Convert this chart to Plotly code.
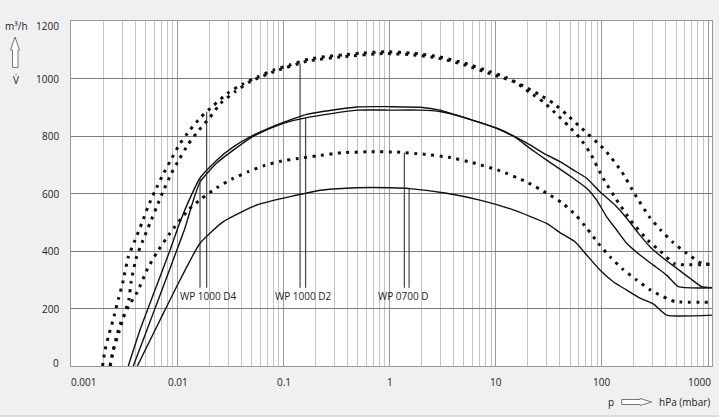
import numpy as np
import plotly.graph_objects as go

# ---------------- data (pressure p in hPa, volume flow V in m3/h) ----------------
p_d4_dot = [0.00196, 0.00207, 0.00227, 0.00252, 0.00276, 0.00304, 0.00343, 0.00397, 0.00459,
            0.00523, 0.00612, 0.00724, 0.00861, 0.01038, 0.01288, 0.01651, 0.02203, 0.0294,
            0.04108, 0.05689, 0.081, 0.1164, 0.1706, 0.2449, 0.3646, 0.5236, 0.901, 1.665,
            2.865, 5.114, 8.79, 12.64, 18.13, 25.1, 34.75, 47.1, 62.0, 106.7, 153.4, 204.6,
            279.1, 357.6, 469.9, 628.6, 870.2, 1088]
v_d4_dot = [0, 56, 114, 174, 232, 290, 380, 438, 496, 552, 609, 664, 716, 770, 818, 865, 908, 948,
            981, 1006, 1030, 1048, 1067, 1076, 1082, 1088, 1093, 1088, 1076, 1053, 1024, 1003, 974,
            946, 914, 873, 832, 751, 676, 597, 519, 473, 429, 392, 357, 354]

p_d2_dot = [0.00231, 0.00248, 0.00279, 0.00313, 0.00348, 0.00364, 0.0041, 0.00472, 0.0055,
            0.00635, 0.00733, 0.00867, 0.01038, 0.01261, 0.0159, 0.0202, 0.02547, 0.03475,
            0.04813, 0.081, 0.1706, 0.3646, 0.901, 1.665, 2.865, 5.114, 8.79, 15.14, 20.96,
            27.97, 36.06, 48.13, 61.1, 77.1, 100.7, 135.5, 187.6, 273, 357.6, 487.6, 1088]
v_d2_dot = [0, 56, 116, 177, 233, 292, 380, 438, 498, 554, 609, 668, 720, 772, 821, 865, 914, 954,
            989, 1024, 1061, 1076, 1087, 1082, 1071, 1047, 1017, 987, 951, 919, 881, 836, 795,
            742, 658, 581, 505, 436, 398, 355, 354]

p_0700_dot = [0.00231, 0.00248, 0.00268, 0.0029, 0.00343, 0.00417, 0.00523, 0.00635, 0.00848,
              0.01261, 0.01687, 0.02336, 0.03236, 0.04639, 0.06663, 0.09577, 0.1373, 0.2046,
              0.3522, 0.651, 1.161, 2.042, 3.614, 6.353, 10.93, 18.8, 31.19, 42.63, 56.89, 72.7,
              92.3, 119, 156.7, 212.4, 287.7, 407.4, 487.6, 1088]
v_0700_dot = [0, 56, 108, 149, 206, 258, 340, 394, 462, 543, 583, 620, 650, 676, 698, 713, 722, 731,
              742, 745, 744, 737, 726, 705, 679, 643, 598, 566, 524, 477, 427, 380, 337, 299, 264,
              235, 224, 222]

p_d4 = [0.00343, 0.00442, 0.00612, 0.00848, 0.01053, 0.01309, 0.01626, 0.02336, 0.0335, 0.04813,
        0.0691, 0.0991, 0.1647, 0.4876, 1.004, 1.926, 2.972, 5.7, 10.17, 14.59, 20.96, 30.11,
        40.18, 53.64, 71.75, 95.7, 132.6, 170.9, 219.8, 283.4, 378.3, 505.8, 675, 870, 1088]
v_d4 = [0, 125, 264, 403, 501, 584, 654, 716, 762, 797, 824, 847, 875, 901, 902, 900, 890, 858,
        827, 800, 769, 734, 711, 682, 653, 606, 560, 514, 462, 415, 375, 340, 305, 276, 272]

p_d2 = [0.00382, 0.00493, 0.00683, 0.00945, 0.01174, 0.01388, 0.01626, 0.02336, 0.0335, 0.04813,
        0.0691, 0.0991, 0.1647, 0.4876, 1.004, 1.926, 2.972, 5.7, 10.17, 14.59, 20.96, 30.11,
        40.18, 53.64, 71.75, 89.1, 110.7, 137.5, 170.9, 228.1, 304.4, 407.4, 523.6, 1088]
v_d2 = [0, 108, 247, 386, 480, 570, 640, 706, 751, 792, 821, 844, 864, 890, 890, 890, 885, 858,
        827, 800, 757, 716, 685, 653, 618, 577, 519, 473, 427, 386, 351, 316, 276, 272]

p_0700 = [0.00417, 0.00683, 0.01053, 0.01626, 0.02696, 0.05566, 0.1147, 0.2346, 0.4876, 1.004,
          1.549, 3.439, 7.08, 14.59, 30.11, 40.18, 55.66, 71.75, 95.7, 127.8, 170.9, 228.1, 304.4,
          407.4, 1088]
v_0700 = [0, 160, 299, 427, 502, 560, 589, 612, 620, 620, 617, 601, 577, 543, 496, 464, 432, 386,
          334, 293, 264, 236, 216, 177, 177]

labels = ["WP 1000 D4", "WP 1000 D2", "WP 0700 D"]
label_p = [0.01934, 0.152, 1.34]
label_v = 243
leader_bottom_v = 272
leader_solid_p = [0.01626, 0.161, 1.52]
leader_dot_p = [0.0188, 0.1426, 1.37]

x_ticks = [0.001, 0.01, 0.1, 1, 10, 100, 1000]
x_tick_text = ["0.001", "0.01", "0.1", "1", "10", "100", "1000"]
y_ticks = [0, 200, 400, 600, 800, 1000, 1200]

# ---------------- figure ----------------
FONT = "Open Sans, DejaVu Sans, sans-serif"
fig = go.Figure()

dot_sets = [(p_d4_dot, v_d4_dot), (p_d2_dot, v_d2_dot), (p_0700_dot, v_0700_dot)]
solid_sets = [(p_d4, v_d4), (p_d2, v_d2), (p_0700, v_0700)]

for pp, vv in dot_sets:
    fig.add_trace(go.Scatter(x=pp, y=vv, mode="lines",
                             line=dict(color="#111111", width=3, dash="3px,5.5px",
                                       shape="spline", smoothing=0.5),
                             hoverinfo="skip"))
for pp, vv in solid_sets:
    fig.add_trace(go.Scatter(x=pp, y=vv, mode="lines",
                             line=dict(color="#111111", width=1.4, shape="spline", smoothing=0.5),
                             hoverinfo="skip"))

# leader lines, ends
def curve_at(pp, vv, p):
    return float(np.interp(np.log10(p), np.log10(pp), vv))

for i in range(3):
    ps, vs = solid_sets[i]
    pd_, vd = dot_sets[i]
    for lp, (cp, cv) in ((leader_solid_p[i], (ps, vs)), (leader_dot_p[i], (pd_, vd))):
        top = curve_at(cp, cv, lp)
        fig.add_trace(go.Scatter(x=[lp, lp], y=[leader_bottom_v, top], mode="lines",
                                 line=dict(color="#222222", width=1), hoverinfo="skip"))

annotations = []
for t, lp in zip(labels, label_p):
    annotations.append(dict(x=np.log10(lp), y=label_v, xref="x", yref="y", text=t,
                            showarrow=False, font=dict(family=FONT, size=10, color="#222"),
                            xanchor="center", yanchor="middle"))

for i, (xv, xt) in enumerate(zip(x_ticks, x_tick_text)):
    shift = 0
    if i == 0:
        shift = 12.5
    elif i == len(x_ticks) - 1:
        shift = -8.5
    annotations.append(dict(x=np.log10(xv), y=0, xref="x", yref="paper", text=xt,
                            showarrow=False, font=dict(family=FONT, size=10, color="#222"),
                            xanchor="center", yanchor="middle", yshift=-16, xshift=shift))

for yv in y_ticks:
    ys = 0
    if yv == y_ticks[-1]:
        ys = -5
    elif yv == y_ticks[0]:
        ys = 3
    annotations.append(dict(x=0, y=yv, xref="paper", yref="y", text=str(yv),
                            showarrow=False, font=dict(family=FONT, size=10, color="#222"),
                            xanchor="right", yanchor="middle", xshift=-10, yshift=ys))

# axis captions (pixel layout helpers for decoration only)
L, R, T, B = 71, 712, 21, 366
def px(x):
    return (x - L) / (R - L)
def py(y):
    return (B - y) / (B - T)

annotations.append(dict(x=px(16), y=py(26), xref="paper", yref="paper", text="m³/h",
                        showarrow=False, font=dict(family=FONT, size=10, color="#222"),
                        xanchor="center", yanchor="middle"))
annotations.append(dict(x=px(16), y=py(80), xref="paper", yref="paper", text="V̇",
                        showarrow=False, font=dict(family=FONT, size=10, color="#222"),
                        xanchor="center", yanchor="middle"))
annotations.append(dict(x=px(610.5), y=py(402), xref="paper", yref="paper", text="p",
                        showarrow=False, font=dict(family=FONT, size=10, color="#222"),
                        xanchor="center", yanchor="middle"))
annotations.append(dict(x=px(657), y=py(402), xref="paper", yref="paper", text="hPa (mbar)",
                        showarrow=False, font=dict(family=FONT, size=10, color="#222"),
                        xanchor="left", yanchor="middle"))

def path(points):
    return "M " + " L ".join(f"{px(a):.5f},{py(b):.5f}" for a, b in points) + " Z"

up_arrow = [(15, 37), (19.5, 50), (18, 50), (18, 67.5), (12.5, 67.5), (12.5, 50), (10.5, 50)]
right_arrow = [(621.7, 399.5), (640, 399.5), (640, 398.5), (651.7, 402), (640, 405.5),
               (640, 404.5), (621.7, 404.5)]
shapes = [
    dict(type="path", xref="paper", yref="paper", path=path(up_arrow),
         line=dict(color="#777", width=1), fillcolor="white"),
    dict(type="path", xref="paper", yref="paper", path=path(right_arrow),
         line=dict(color="#777", width=1), fillcolor="white"),
    dict(type="line", xref="paper", yref="paper", x0=px(0), x1=px(719), y0=py(416), y1=py(416),
         line=dict(color="#c8c8c8", width=1)),
]

fig.update_layout(
    width=719, height=417,
    margin=dict(l=L, r=719 - R, t=T, b=417 - B, autoexpand=False),
    paper_bgcolor="#f0f0f0", plot_bgcolor="white",
    showlegend=False,
    font=dict(family=FONT, size=10, color="#222"),
    annotations=annotations, shapes=shapes,
    xaxis=dict(type="log", range=[-3.005, 3.037], dtick=1, showgrid=True, gridcolor="#9a9a9a",
               gridwidth=1, minor=dict(dtick="D1", showgrid=True, gridcolor="#c4c4c4", gridwidth=1),
               showline=True, mirror=True, linecolor="#999999", linewidth=1,
               showticklabels=False, ticks="", zeroline=False, fixedrange=True, automargin=False),
    yaxis=dict(range=[0, 1200], dtick=200, showgrid=True, gridcolor="#7c7c7c", gridwidth=1,
               showline=True, mirror=True, linecolor="#999999", linewidth=1,
               showticklabels=False, ticks="", zeroline=False, fixedrange=True, automargin=False),
)

fig.write_html("out.html", config={"displayModeBar": False},
               post_script="document.body.style.margin='0';document.body.style.overflow='hidden';")
